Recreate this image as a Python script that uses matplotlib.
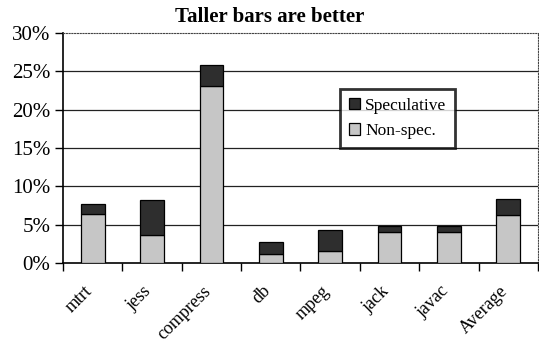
import matplotlib
matplotlib.use("Agg")
import matplotlib.pyplot as plt
from matplotlib.ticker import FixedLocator, PercentFormatter
from matplotlib.transforms import ScaledTranslation

categories = ["mtrt", "jess", "compress", "db", "mpeg", "jack", "javac", "Average"]
non_spec = [6.35, 3.6, 23.1, 1.2, 1.5, 4.0, 4.0, 6.3]
speculative = [1.3, 4.65, 2.7, 1.5, 2.75, 0.8, 0.8, 2.0]
y_ticks = [0, 5, 10, 15, 20, 25, 30]

plt.rcParams["font.family"] = ["Liberation Serif", "DejaVu Serif"]

fig = plt.figure(figsize=(5.39, 3.45), dpi=100)
ax = fig.add_axes([0.1169, 0.2377, 0.881, 0.6667])

x = list(range(len(categories)))
light = "#c6c6c6"
dark = "#2e2e2e"
ax.bar(x, non_spec, width=0.4, color=light, edgecolor="black", linewidth=0.9,
       label="Non-spec.", zorder=3)
ax.bar(x, speculative, width=0.4, bottom=non_spec, color=dark, edgecolor="black",
       linewidth=0.9, label="Speculative", zorder=3)

ax.set_xlim(-0.5, len(categories) - 0.5)
ax.set_ylim(0, 30)

# y axis
ax.yaxis.set_major_locator(FixedLocator(y_ticks))
ax.yaxis.set_major_formatter(PercentFormatter(decimals=0))
ax.tick_params(axis="y", direction="out", length=6, width=1, labelsize=15, pad=3)
for v in y_ticks[1:-1]:
    ax.axhline(v, color="#222222", linewidth=0.9, zorder=1)

# x axis: labels at centers, tick marks at category boundaries
ax.set_xticks(x)
ax.set_xticklabels(categories, rotation=45, ha="right", va="top",
                   rotation_mode="anchor", fontsize=13)
ax.tick_params(axis="x", which="major", length=0, pad=14)
shift = ScaledTranslation(-0.09, 0, fig.dpi_scale_trans)
for lbl in ax.get_xticklabels():
    lbl.set_transform(lbl.get_transform() + shift)
ax.set_xticks([i - 0.5 for i in range(len(categories) + 1)], minor=True)
ax.tick_params(axis="x", which="minor", direction="out", length=6, width=1)

for side in ("top", "right"):
    ax.spines[side].set_linestyle((0, (1, 1.5)))
    ax.spines[side].set_linewidth(0.8)
    ax.spines[side].set_color("#444444")
for side in ("left", "bottom"):
    ax.spines[side].set_linewidth(1.2)
    ax.spines[side].set_color("black")

handles, labels = ax.get_legend_handles_labels()
leg = ax.legend(handles[::-1], labels[::-1], loc="upper left",
                bbox_to_anchor=(0.583, 0.757), borderaxespad=0, fontsize=12.5,
                frameon=True, fancybox=False, edgecolor="black",
                handlelength=0.65, handleheight=0.65, handletextpad=0.3,
                borderpad=0.5, labelspacing=0.55)
leg.get_frame().set_linewidth(2)
leg.set_zorder(5)

fig.text(0.5, 0.935, "Taller bars are better", ha="center", va="baseline",
         fontsize=15, fontweight="bold")

fig.savefig("out.png", dpi=100)
